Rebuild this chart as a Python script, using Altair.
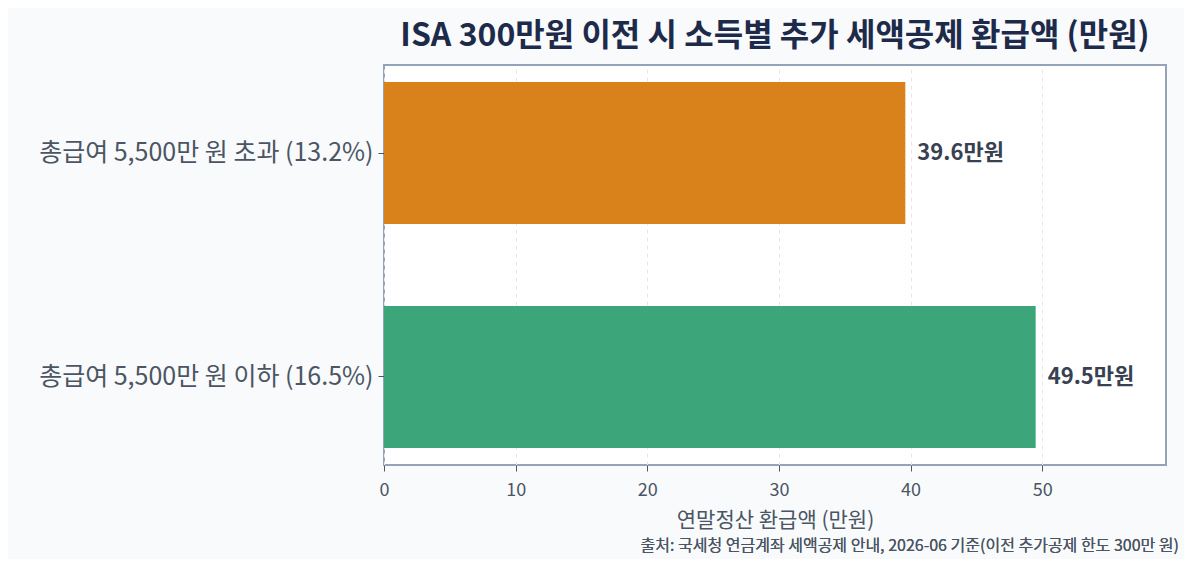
import altair as alt
import pandas as pd

# data
groups = ["총급여 5,500만 원 초과 (13.2%)", "총급여 5,500만 원 이하 (16.5%)"]
refunds = [39.6, 49.5]
labels = ["39.6만원", "49.5만원"]
colors = ["#d9821b", "#3ca67a"]

df = pd.DataFrame({"group": groups, "refund": refunds, "label": labels})

FONT = "Noto Sans CJK KR"

y_enc = alt.Y(
    "group:N",
    sort=groups,
    title=None,
    scale=alt.Scale(paddingInner=0.366, paddingOuter=0.076),
    axis=alt.Axis(labelFontSize=25, labelColor="#4b5563", labelPadding=5,
                  tickColor="#4b5563", tickSize=6, domain=False, labelLimit=500),
)

bars = alt.Chart(df).mark_bar().encode(
    x=alt.X(
        "refund:Q",
        title="연말정산 환급액 (만원)",
        scale=alt.Scale(domain=[0, 59.4], nice=False),
        axis=alt.Axis(values=[0, 10, 20, 30, 40, 50], labelFontSize=18, labelColor="#4b5563",
                      labelFlush=False,
                      titleFontSize=21, titleColor="#4b5563", titleFontWeight="normal",
                      tickColor="#4b5563", tickSize=6, domain=False, labelPadding=10,
                      titlePadding=10, gridDash=[4, 4], gridColor="#e5e7eb"),
    ),
    y=y_enc,
    color=alt.Color("group:N", scale=alt.Scale(domain=groups, range=colors), legend=None),
)

text = alt.Chart(df).mark_text(
    align="left", baseline="middle", dx=12, fontSize=22, fontWeight="bold",
    color="#374151", font=FONT
).encode(
    x="refund:Q",
    y=alt.Y("group:N", sort=groups),
    text="label:N",
)

note = alt.Chart(df).mark_text(
    align="right", baseline="middle", fontSize=16, color="#4b5563", font=FONT
).encode(
    x=alt.value(795),
    y=alt.value(481),
    text=alt.value("출처: 국세청 연금계좌 세액공제 안내, 2026-06 기준(이전 추가공제 한도 300만 원)"),
)

chart = alt.layer(bars, text, note).properties(
    width=782,
    height=400,
    background="#f8fafc",
    padding={"left": 30, "top": 12, "right": 5, "bottom": 5},
    title=alt.TitleParams(
        "ISA 300만원 이전 시 소득별 추가 세액공제 환급액 (만원)",
        fontSize=32, fontWeight="bold", color="#1e2a4a", font=FONT,
        anchor="middle", offset=12,
    ),
).configure_view(
    fill="white", stroke="#94a3b8", strokeWidth=2
).configure_axis(
    labelFont=FONT, titleFont=FONT
)

chart.save("out.html", embed_options={"renderer": "svg", "actions": False})
